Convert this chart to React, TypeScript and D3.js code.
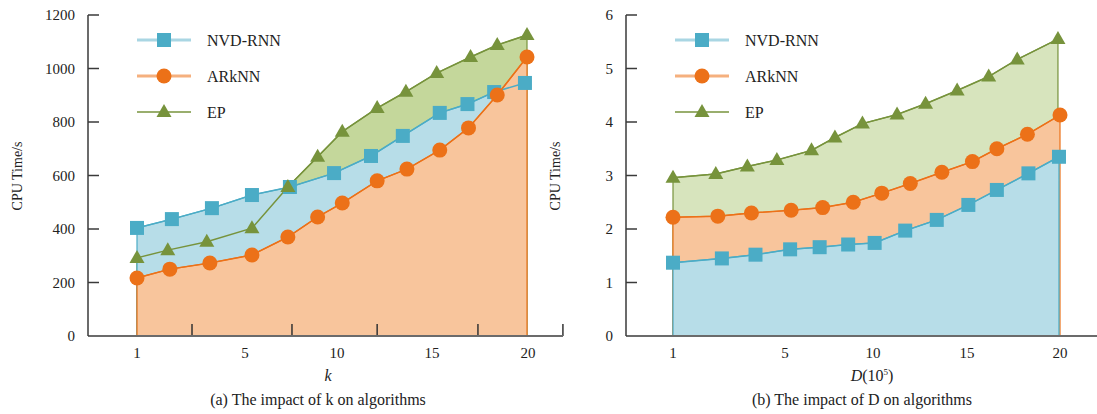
import React, { useEffect, useRef } from 'react';
import * as d3 from 'd3';

// ---- data ----
const seriesNames = ['NVD-RNN', 'ARkNN', 'EP'];

// (a) impact of k
const kNvd = [1, 2.7, 4.65, 6.6, 8.45, 10.6, 12.4, 13.95, 15.75, 17.1, 18.4, 19.9];
const nvdA = [404, 437, 478, 527, 557, 609, 673, 748, 834, 867, 912, 946];
const kArk = [1, 2.6, 4.55, 6.6, 8.35, 9.8, 11, 12.7, 14.15, 15.75, 17.15, 18.55, 20];
const arkA = [217, 250, 273, 303, 370, 445, 497, 580, 624, 695, 778, 901, 1043];
const kEp = [1, 2.5, 4.4, 6.6, 8.35, 9.8, 11, 12.7, 14.1, 15.6, 17.25, 18.55, 20];
const epA = [292, 321, 352, 403, 557, 670, 764, 852, 913, 983, 1043, 1088, 1125];

// (b) impact of D
const dNvd = [1, 3.4, 5.05, 6.75, 8.2, 9.6, 10.9, 12.4, 13.95, 15.5, 16.9, 18.45, 19.95];
const nvdB = [1.37, 1.45, 1.52, 1.62, 1.66, 1.71, 1.74, 1.97, 2.17, 2.45, 2.73, 3.04, 3.35];
const dArk = [1, 3.2, 4.85, 6.8, 8.35, 9.85, 11.25, 12.65, 14.2, 15.7, 16.9, 18.4, 20];
const arkB = [2.22, 2.24, 2.3, 2.35, 2.4, 2.5, 2.67, 2.85, 3.06, 3.26, 3.5, 3.77, 4.13];
const dEp = [1, 3.1, 4.65, 6.1, 7.8, 8.95, 10.3, 12, 13.4, 14.95, 16.5, 17.9, 19.9];
const epB = [2.96, 3.03, 3.17, 3.29, 3.47, 3.71, 3.97, 4.14, 4.34, 4.59, 4.85, 5.17, 5.55];

const xTickLabels = ['1', '5', '10', '15', '20'];
const xLabelPosA = [1, 6.26, 10.74, 15.37, 20.05];
const xLabelPosB = [1, 6.5, 10.82, 15.43, 20];
const xMarksA = [3.68, 8.55, 12.7, 17.61, 21.75];
const xMarksB = [3.8, 8.7, 12.9, 17.85, 22.8];
const yTicksA = [0, 200, 400, 600, 800, 1000, 1200];
const yTicksB = [0, 1, 2, 3, 4, 5, 6];

const FONT = "'Times New Roman', 'Liberation Serif', 'DejaVu Serif', serif";
const lineColor = ['#4bacc6', '#ec7118', '#77933c'];
const legendLine = ['#a9d6e3', '#f5b07e', '#77933c'];

const App = () => {
  const ref = useRef(null);

  useEffect(() => {
    const svg = d3.select(ref.current);
    svg.selectAll('*').remove();

    const panel = (opt) => {
      const { axisX, axisEnd, xRange, yMax, yTicks, labelPos, marks, series, order, fills,
        marksOnTop, xTitle, caption, captionX, legendX } = opt;
      const x = d3.scaleLinear([1, 20], xRange);
      const y = d3.scaleLinear([0, yMax], [336, 15]);
      const g = svg.append('g');

      const drawMarks = () => {
        g.append('g').selectAll('line').data(marks.filter(m => x(m) < axisEnd + 1)).join('line')
          .attr('x1', d => x(d)).attr('x2', d => x(d))
          .attr('y1', y(0)).attr('y2', y(0) - 12)
          .attr('stroke', '#333').attr('stroke-width', 1.5);
      };
      if (!marksOnTop) drawMarks();

      const area = d3.area().x(d => x(d[0])).y0(y(0)).y1(d => y(d[1]));
      const line = d3.line().x(d => x(d[0])).y(d => y(d[1]));
      const pts = series.map(s => s.xs.map((v, i) => [v, s.ys[i]]));

      // fills, back to front
      order.forEach(si => {
        g.append('path').attr('d', area(pts[si]))
          .attr('fill', fills[si]).attr('stroke', lineColor[si]).attr('stroke-width', 1.2);
      });

      if (marksOnTop) drawMarks();

      // axes
      g.append('line').attr('x1', axisX).attr('x2', axisEnd).attr('y1', y(0)).attr('y2', y(0))
        .attr('stroke', '#6b6b6b').attr('stroke-width', 2);
      g.append('line').attr('x1', axisX).attr('x2', axisX).attr('y1', y(0)).attr('y2', y(yMax))
        .attr('stroke', '#3a3a3a').attr('stroke-width', 1.5);
      g.append('g').selectAll('line').data(yTicks.filter(t => t > 0)).join('line')
        .attr('x1', axisX).attr('x2', axisX + 11).attr('y1', d => y(d)).attr('y2', d => y(d))
        .attr('stroke', '#3a3a3a').attr('stroke-width', 1.5);
      g.append('g').selectAll('text').data(yTicks).join('text')
        .attr('x', axisX - 13).attr('y', d => y(d)).attr('dy', '0.35em')
        .attr('text-anchor', 'end').attr('font-family', FONT).attr('font-size', 15).attr('fill', '#222')
        .text(d => d);
      g.append('g').selectAll('text').data(labelPos).join('text')
        .attr('x', d => x(d)).attr('y', 358).attr('text-anchor', 'middle')
        .attr('font-family', FONT).attr('font-size', 15).attr('fill', '#222')
        .text((d, i) => xTickLabels[i]);

      // series lines and markers
      series.forEach((s, si) => {
        g.append('path').attr('d', line(pts[si])).attr('fill', 'none')
          .attr('stroke', lineColor[si]).attr('stroke-width', 1.5);
      });
      const drawMarker = (sel, si, cx, cy) => {
        if (si === 0) {
          sel.append('rect').attr('x', cx - 7).attr('y', cy - 7).attr('width', 14).attr('height', 14)
            .attr('fill', lineColor[0]);
        } else if (si === 1) {
          sel.append('circle').attr('cx', cx).attr('cy', cy).attr('r', 7.5).attr('fill', lineColor[1]);
        } else {
          sel.append('path').attr('d', `M${cx},${cy - 8}L${cx + 7.5},${cy + 5}L${cx - 7.5},${cy + 5}Z`)
            .attr('fill', lineColor[2]);
        }
      };
      series.forEach((s, si) => {
        const mg = g.append('g');
        pts[si].forEach(p => drawMarker(mg, si, x(p[0]), y(p[1])));
      });

      // legend
      seriesNames.forEach((name, si) => {
        const ly = 40 + si * 36;
        g.append('line').attr('x1', legendX).attr('x2', legendX + 54).attr('y1', ly).attr('y2', ly)
          .attr('stroke', legendLine[si]).attr('stroke-width', si === 2 ? 1.5 : 3);
        drawMarker(g, si, legendX + 27, ly);
        g.append('text').attr('x', legendX + 70).attr('y', ly).attr('dy', '0.35em')
          .attr('font-family', FONT).attr('font-size', 16).attr('fill', '#222').text(name);
      });

      // titles
      g.append('text').attr('transform', `translate(${axisX - 66},176) rotate(-90)`)
        .attr('text-anchor', 'middle').attr('font-family', FONT).attr('font-size', 14).attr('fill', '#222')
        .text('CPU Time/s');
      const xt = g.append('text').attr('x', captionX + 10).attr('y', 381).attr('text-anchor', 'middle')
        .attr('font-family', FONT).attr('font-size', 16).attr('fill', '#222');
      xt.append('tspan').attr('font-style', 'italic').text(xTitle[0]);
      if (xTitle[1]) {
        xt.append('tspan').text(xTitle[1]);
        xt.append('tspan').attr('font-size', 9).attr('dy', -6).text(xTitle[2]);
        xt.append('tspan').attr('dy', 6).text(xTitle[3]);
      }
      g.append('text').attr('x', captionX).attr('y', 405).attr('text-anchor', 'middle')
        .attr('font-family', FONT).attr('font-size', 16).attr('fill', '#222').text(caption);
    };

    panel({
      axisX: 88, axisEnd: 563, xRange: [137, 527], yMax: 1200, yTicks: yTicksA,
      labelPos: xLabelPosA, marks: xMarksA, marksOnTop: true,
      series: [{ xs: kNvd, ys: nvdA }, { xs: kArk, ys: arkA }, { xs: kEp, ys: epA }],
      order: [2, 0, 1], fills: ['#b7dde8', '#f8c59c', '#c4d79b'],
      xTitle: ['k'], caption: '(a) The impact of k on algorithms', captionX: 318, legendX: 137,
    });
    panel({
      axisX: 626, axisEnd: 1100, xRange: [673, 1060], yMax: 6, yTicks: yTicksB,
      labelPos: xLabelPosB, marks: xMarksB, marksOnTop: false,
      series: [{ xs: dNvd, ys: nvdB }, { xs: dArk, ys: arkB }, { xs: dEp, ys: epB }],
      order: [2, 1, 0], fills: ['#b7dde8', '#f8c59c', '#d7e4bd'],
      xTitle: ['D', '(10', '5', ')'], caption: '(b) The impact of D on algorithms', captionX: 862, legendX: 675,
    });
  }, []);

  return (
    <div style={{ position: 'absolute', left: 0, top: 0 }}>
      <svg ref={ref} width={1097} height={414} style={{ display: 'block', background: '#fff' }} />
    </div>
  );
};

export default App;
